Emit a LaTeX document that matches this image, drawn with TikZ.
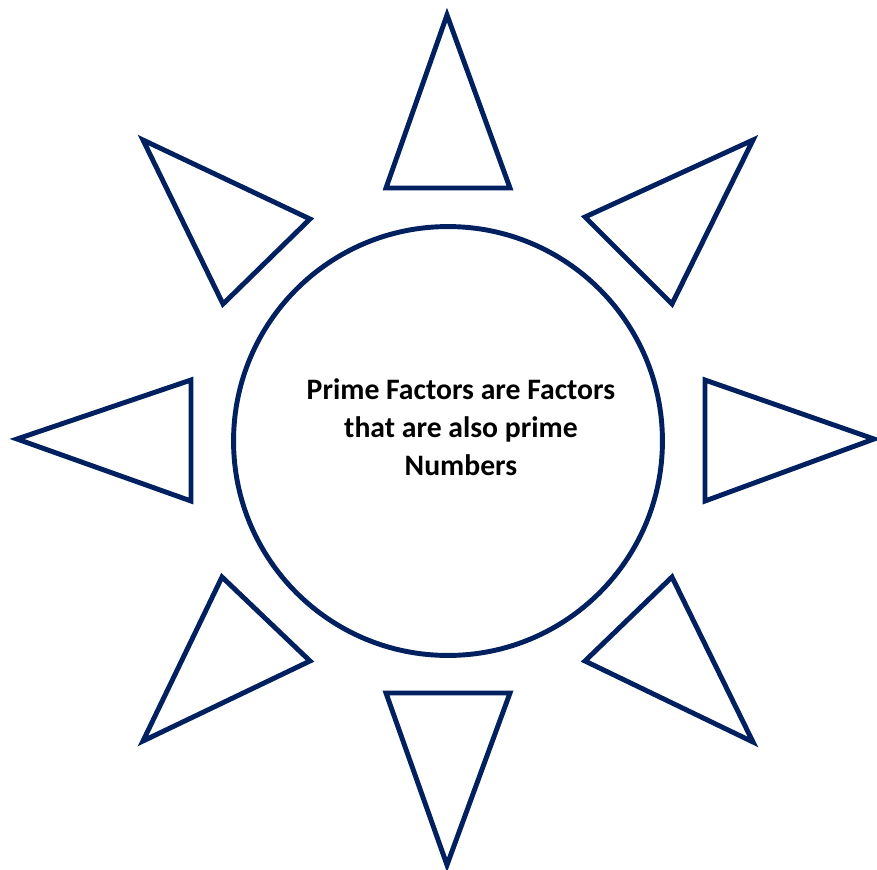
\documentclass[tikz,border=0pt]{standalone}
\usepackage{fontspec}
\setmainfont{Carlito}
\usepackage{tikz}
\usetikzlibrary{positioning}
\definecolor{SunBlue}{HTML}{002060}

\begin{document}
\begin{tikzpicture}[
    x=0.02cm, y=-0.02cm,
    ray/.style={draw=SunBlue, line width=2.8pt, line join=miter},
    core/.style={draw=SunBlue, line width=2.8pt},
    label/.style={align=center, font=\fontsize{16.9}{21.5}\selectfont\bfseries}
  ]
    \useasboundingbox (0,0) rectangle (877,870);
    \draw[core] (448,441) circle[radius=4.29cm];
    \node[label] (text) at (461,427) {Prime Factors are Factors\\that are also prime\\Numbers};
    % the eight rays
    \foreach \a/\b/\c in {{(447,15)}/{(386,188)}/{(510,188)},
                          {(447,865)}/{(386,693)}/{(510,693)},
                          {(17,439)}/{(191,380)}/{(191,501)},
                          {(874,439)}/{(705,380)}/{(705,501)},
                          {(143,140)}/{(223,304)}/{(310,219)},
                          {(753,140)}/{(585,217)}/{(672,304)},
                          {(143,741)}/{(222,577)}/{(310,661)},
                          {(753,742)}/{(585,661)}/{(672,577)}}
      \draw[ray] \a -- \b -- \c -- cycle;
  \end{tikzpicture}
\end{document}
